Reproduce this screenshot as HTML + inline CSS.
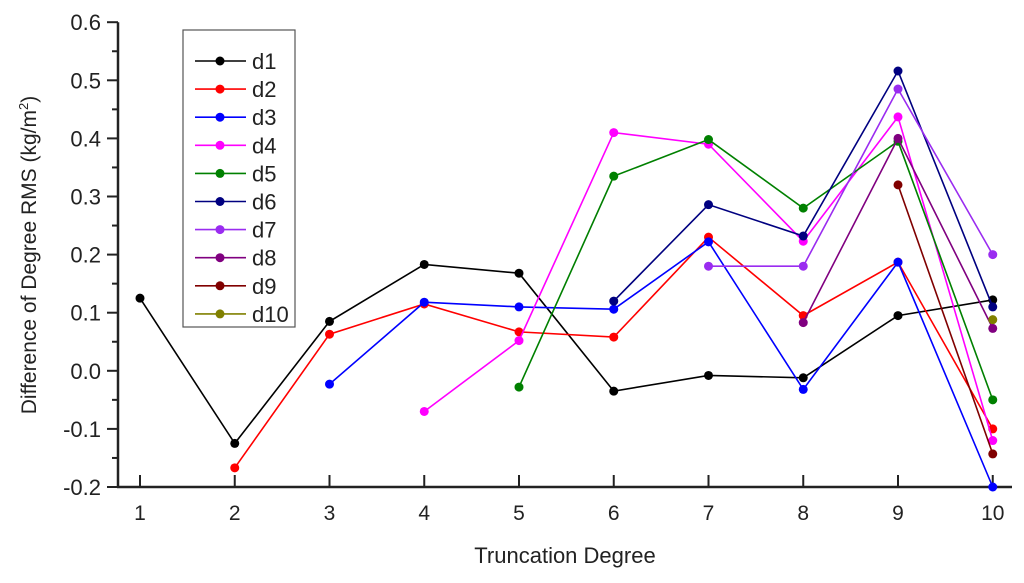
<!DOCTYPE html>
<html><head><meta charset="utf-8"><style>
body{margin:0;background:#fff}
svg{display:block;font-family:"Liberation Sans",sans-serif}
</style></head><body>
<svg id="chart" width="1024" height="583" viewBox="0 0 1024 583">
<g id="axes"></g>
<g id="series"></g>
<g id="legend"></g>
<text x="565" y="563" font-size="22" text-anchor="middle" fill="#222">Truncation Degree</text>
<text transform="translate(36,255) rotate(-90)" font-size="21" text-anchor="middle" fill="#222">Difference of Degree RMS (kg/m<tspan font-size="13" dy="-8">2</tspan><tspan dy="8">)</tspan></text>
</svg>
<script>
const categories=[1,2,3,4,5,6,7,8,9,10];
const yTicks=[-0.2,-0.1,0.0,0.1,0.2,0.3,0.4,0.5,0.6];
const yTickLabels=["-0.2","-0.1","0.0","0.1","0.2","0.3","0.4","0.5","0.6"];
const seriesNames=["d1","d2","d3","d4","d5","d6","d7","d8","d9","d10"];
const seriesColors=["#000000","#ff0000","#0000ff","#ff00ff","#008000","#000080","#9a2cf0","#800080","#800000","#808000"];
const d1=[0.125,-0.125,0.085,0.183,0.168,-0.035,-0.008,-0.012,0.095,0.122];
const d2=[null,-0.167,0.063,0.115,0.067,0.058,0.23,0.095,0.187,-0.1];
const d3=[null,null,-0.023,0.118,0.11,0.106,0.222,-0.032,0.187,-0.2];
const d4=[null,null,null,-0.07,0.052,0.41,0.39,0.223,0.437,-0.12];
const d5=[null,null,null,null,-0.028,0.335,0.398,0.28,0.395,-0.05];
const d6=[null,null,null,null,null,0.12,0.286,0.232,0.516,0.11];
const d7=[null,null,null,null,null,null,0.18,0.18,0.485,0.2];
const d8=[null,null,null,null,null,null,null,0.083,0.4,0.073];
const d9=[null,null,null,null,null,null,null,null,0.32,-0.143];
const d10=[null,null,null,null,null,null,null,null,null,0.088];
const allSeries=[d1,d2,d3,d4,d5,d6,d7,d8,d9,d10];

const NS="http://www.w3.org/2000/svg";
const X0=140,DX=94.75,Y0=487,PY=581;
const xs=c=>X0+(c-1)*DX;
const ys=v=>Y0-(v+0.2)*PY;
function mk(p,t,a){const e=document.createElementNS(NS,t);for(const k in a)e.setAttribute(k,a[k]);p.appendChild(e);return e;}
const ax=document.getElementById('axes');
let e=mk(ax,'line',{x1:118,y1:ys(0.6),x2:118,y2:Y0+1,stroke:'#222','stroke-width':2.5});


e=mk(ax,'line',{x1:117,y1:Y0,x2:1012,y2:Y0,stroke:'#222','stroke-width':2.5});


yTicks.forEach((v,i)=>{
  const y=ys(v);
  let t=mk(ax,'line',{x1:107,y1:y,x2:118,y2:y,stroke:'#222','stroke-width':2});
  
  
  if(i<yTicks.length-1){const ym=ys(v+0.05);
    let m=mk(ax,'line',{x1:112,y1:ym,x2:118,y2:ym,stroke:'#222','stroke-width':2});
    
    }
  let l=mk(ax,'text',{x:101,y:y+8,'font-size':22,'text-anchor':'end',fill:'#222'});
  l.textContent=yTickLabels[i];
  
  
});
categories.forEach(c=>{
  const x=xs(c);
  let t=mk(ax,'line',{x1:x,y1:Y0,x2:x,y2:Y0-12,stroke:'#222','stroke-width':2});
  
  
  let l=mk(ax,'text',{x:x,y:520,'font-size':21,'text-anchor':'middle',fill:'#222'});
  l.textContent=String(c);
  
  
});
const sg=document.getElementById('series');
allSeries.forEach((s,si)=>{
  const g=mk(sg,'g',{});
  
  
  const pts=[];s.forEach((v,i)=>{if(v!==null)pts.push([xs(categories[i]),ys(v)]);});
  if(pts.length>1){const pl=mk(g,'polyline',{points:pts.map(p=>p.join(',')).join(' '),fill:'none',stroke:seriesColors[si],'stroke-width':1.6});
    
    }
  pts.forEach(p=>{const c=mk(g,'circle',{cx:p[0],cy:p[1],r:4.5,fill:seriesColors[si]});
    
    });
});
const lg=document.getElementById('legend');
e=mk(lg,'rect',{x:183,y:30,width:112,height:297,fill:'#fff',stroke:'#555','stroke-width':1.2});


seriesNames.forEach((n,i)=>{
  const y=61+i*28.1;
  const g=mk(lg,'g',{});
  
  
  mk(g,'line',{x1:195,y1:y,x2:246,y2:y,stroke:seriesColors[i],'stroke-width':1.6});
  mk(g,'circle',{cx:220,cy:y,r:4.5,fill:seriesColors[i]});
  const t=mk(g,'text',{x:252,y:y+8,'font-size':22,fill:'#222'});t.textContent=n;
});
</script>
</body></html>
